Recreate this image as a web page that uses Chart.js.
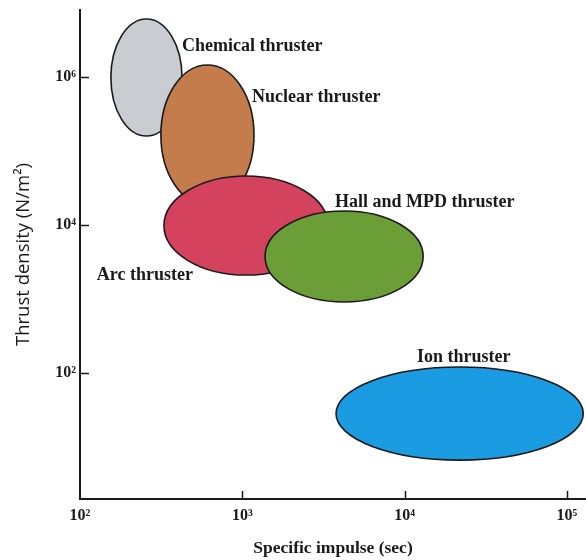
<!DOCTYPE html>
<html><head><meta charset="utf-8">
<script src="https://cdn.jsdelivr.net/npm/chart.js@4/dist/chart.umd.min.js"></script>
<style>html,body{margin:0;padding:0;background:#fff;}#wrap{width:586px;height:560px;}</style>
</head><body><div id="wrap"><canvas id="c" width="586" height="560"></canvas></div>
<script>
// Thruster operating regions
const thrusters = ['Chemical thruster', 'Nuclear thruster', 'Arc thruster', 'Hall and MPD thruster', 'Ion thruster'];
// specific impulse range (sec)
const ispMin = [155, 315, 329, 1380, 3780];
const ispMax = [425, 1180, 3370, 13000, 126000];
// thrust density range (N/m^2)
const densityMin = [1.59e5, 1.86e4, 2110, 914, 6.7];
const densityMax = [6.04e6, 1.45e6, 4.59e4, 1.55e4, 121];
// label anchor (left edge, middle) in data units
const labelIsp = [425, 1148, 127, 3720, 11900];
const labelDensity = [2.6e6, 5.35e5, 2110, 2.05e4, 165];
// ticks
const xTickValues = [1e2, 1e3, 1e4, 1e5];
const xTickLabels = ['10²', '10³', '10⁴', '10⁵'];
const yTickValues = [1e2, 1e4, 1e6];
const yTickLabels = ['10²', '10⁴', '10⁶'];

const colors = ['#c9ccd1', '#c57c4d', '#d4425d', '#6c9e38', '#1b9be2'];
const serifBold = '"Liberation Serif", "Times New Roman", serif';

const datasets = thrusters.map((name, i) => ({
  label: name,
  data: [{x: ispMin[i], y: densityMin[i]}, {x: ispMax[i], y: densityMax[i]}],
  pointRadius: 0,
  pointHoverRadius: 0,
  showLine: false,
  backgroundColor: colors[i]
}));

const ellipsePlugin = {
  id: 'ellipses',
  afterDatasetsDraw(chart) {
    const ctx = chart.ctx;
    const xs = chart.scales.x, ys = chart.scales.y;
    ctx.save();
    chart.data.datasets.forEach((ds, i) => {
      const x1 = xs.getPixelForValue(ds.data[0].x), x2 = xs.getPixelForValue(ds.data[1].x);
      const y1 = ys.getPixelForValue(ds.data[0].y), y2 = ys.getPixelForValue(ds.data[1].y);
      ctx.beginPath();
      ctx.ellipse((x1 + x2) / 2, (y1 + y2) / 2, Math.abs(x2 - x1) / 2, Math.abs(y2 - y1) / 2, 0, 0, Math.PI * 2);
      ctx.fillStyle = ds.backgroundColor;
      ctx.fill();
      ctx.lineWidth = 1.6;
      ctx.strokeStyle = '#1a1a1a';
      ctx.stroke();
    });
    ctx.font = 'bold 18px ' + serifBold;
    ctx.fillStyle = '#1a1a1a';
    ctx.textAlign = 'left';
    ctx.textBaseline = 'middle';
    thrusters.forEach((name, i) => {
      ctx.fillText(name, xs.getPixelForValue(labelIsp[i]), ys.getPixelForValue(labelDensity[i]));
    });
    // inward tick marks on both axes
    ctx.strokeStyle = '#1a1a1a';
    ctx.lineWidth = 1.5;
    ctx.beginPath();
    xs.ticks.forEach(t => {
      if (t.value === xs.min) return;
      const px = Math.round(xs.getPixelForValue(t.value)) + 0.5;
      ctx.moveTo(px, xs.top);
      ctx.lineTo(px, xs.top - 8);
    });
    ys.ticks.forEach(t => {
      const py = Math.round(ys.getPixelForValue(t.value)) + 0.5;
      ctx.moveTo(ys.right, py);
      ctx.lineTo(ys.right + 9, py);
    });
    ctx.stroke();
    ctx.restore();
  }
};

new Chart(document.getElementById('c'), {
  type: 'scatter',
  data: { datasets },
  options: {
    responsive: false,
    devicePixelRatio: 1,
    animation: false,
    events: [],
    layout: { padding: { top: 10, left: 0, right: 0, bottom: 0 } },
    plugins: { legend: { display: false }, tooltip: { enabled: false } },
    scales: {
      x: {
        type: 'logarithmic',
        min: 100,
        max: 131000,
        afterBuildTicks: (s) => { s.ticks = xTickValues.map(v => ({ value: v })); },
        afterFit: (s) => { s.height = 61; s.paddingLeft = 0; s.paddingRight = 0; },
        ticks: {
          autoSkip: false, maxRotation: 0, padding: 7,
          color: '#1a1a1a',
          font: { family: serifBold, weight: 'bold', size: 16 },
          callback: (v) => { const k = xTickValues.indexOf(v); return k >= 0 ? xTickLabels[k] : ''; }
        },
        grid: { drawOnChartArea: false, drawTicks: false, color: '#1a1a1a' },
        border: { display: true, color: '#1a1a1a', width: 2 },
        title: {
          display: true, text: 'Specific impulse (sec)', color: '#1a1a1a',
          font: { family: serifBold, weight: 'bold', size: 17.5 },
          padding: { top: 0, bottom: 1 }
        }
      },
      y: {
        type: 'logarithmic',
        min: 2,
        max: 8e6,
        afterBuildTicks: (s) => { s.ticks = yTickValues.map(v => ({ value: v })); },
        afterFit: (s) => { s.width = 80; s.paddingTop = 0; s.paddingBottom = 0; },
        ticks: {
          autoSkip: false, padding: 4,
          color: '#1a1a1a',
          font: { family: serifBold, weight: 'bold', size: 16 },
          callback: (v) => { const k = yTickValues.indexOf(v); return k >= 0 ? yTickLabels[k] : ''; }
        },
        grid: { drawOnChartArea: false, drawTicks: false, color: '#1a1a1a' },
        border: { display: true, color: '#1a1a1a', width: 2 },
        title: {
          display: true, text: 'Thrust density (N/m²)', color: '#1a1a1a',
          font: { family: '"Open Sans", sans-serif', weight: 'normal', size: 18.5 },
          padding: { top: 13, bottom: 0 }
        }
      }
    }
  },
  plugins: [ellipsePlugin]
});
</script>
</body></html>
